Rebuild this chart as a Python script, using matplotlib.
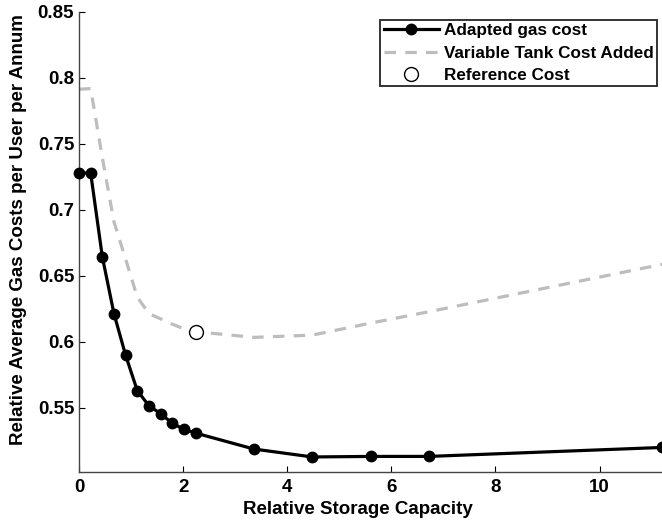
import matplotlib
matplotlib.use("Agg")
import matplotlib.pyplot as plt

plt.rcParams['font.family'] = ['Liberation Sans', 'DejaVu Sans']
plt.rcParams['font.weight'] = 'bold'

capacity = [0, 0.224, 0.448, 0.672, 0.896, 1.12, 1.344, 1.568, 1.792, 2.016,
            2.24, 3.36, 4.48, 5.6, 6.72, 11.2]
adapted_cost = [0.728, 0.728, 0.6646, 0.6214, 0.5899, 0.5631, 0.5517, 0.5457,
                0.5384, 0.5338, 0.5310, 0.5189, 0.5129, 0.5133, 0.5133, 0.5201]
tank_cost_added = [0.7915, 0.792, 0.7396, 0.691, 0.6627, 0.634, 0.6215, 0.6175,
                   0.6135, 0.610, 0.6078, 0.6035, 0.6052, 0.6143, 0.6229, 0.6588]
ref_capacity = [2.25]
ref_cost = [0.6078]

xticks = [0, 2, 4, 6, 8, 10]
yticks = [0.55, 0.6, 0.65, 0.7, 0.75, 0.8, 0.85]
ytick_labels = ['0.55', '0.6', '0.65', '0.7', '0.75', '0.8', '0.85']

fig = plt.figure(figsize=(6.62, 5.21), dpi=100)
ax = fig.add_axes([79/662, 49/521, 583/662, 460/521])

ax.plot(capacity, adapted_cost, color='black', lw=2.3, marker='o', ms=7.5,
        label='Adapted gas cost', zorder=3, clip_on=False)
ax.plot(capacity, tank_cost_added, color='#bdbdbd', lw=2.3, ls=(0, (3.6, 2.9)),
        label='Variable Tank Cost Added', zorder=2)
ax.plot(ref_capacity, ref_cost, ls='none', marker='o', ms=10, mfc='white',
        mec='black', mew=1.0, label='Reference Cost', zorder=4)

ax.set_xlim(0, 11.2)
ax.set_ylim(0.5015, 0.85)
ax.set_xticks(xticks)
ax.set_yticks(yticks)
ax.set_yticklabels(ytick_labels)
ax.tick_params(direction='in', length=4, width=0.8, labelsize=13.5, colors='black')
ax.tick_params(axis='x', pad=5)
for s in ['top', 'right']:
    ax.spines[s].set_visible(False)
for s in ['left', 'bottom']:
    ax.spines[s].set_color('#444444')
    ax.spines[s].set_linewidth(1.0)

ax.set_xlabel('Relative Storage Capacity', fontsize=13.5, fontweight='bold')
ax.set_ylabel('Relative Average Gas Costs per User per Annum', fontsize=13.5,
              fontweight='bold')
ax.xaxis.set_label_coords(0.4786, -0.063)
ax.yaxis.set_label_coords(-0.089, 0.526)

leg = ax.legend(loc='upper right', bbox_to_anchor=(0.997, 0.99), frameon=True,
                fancybox=False, edgecolor='black', fontsize=12.3, borderpad=0.2,
                labelspacing=0.42, handlelength=3.2, handletextpad=0.3,
                borderaxespad=0.2)
leg.get_frame().set_linewidth(1.4)

fig.savefig('out.png', dpi=100)
